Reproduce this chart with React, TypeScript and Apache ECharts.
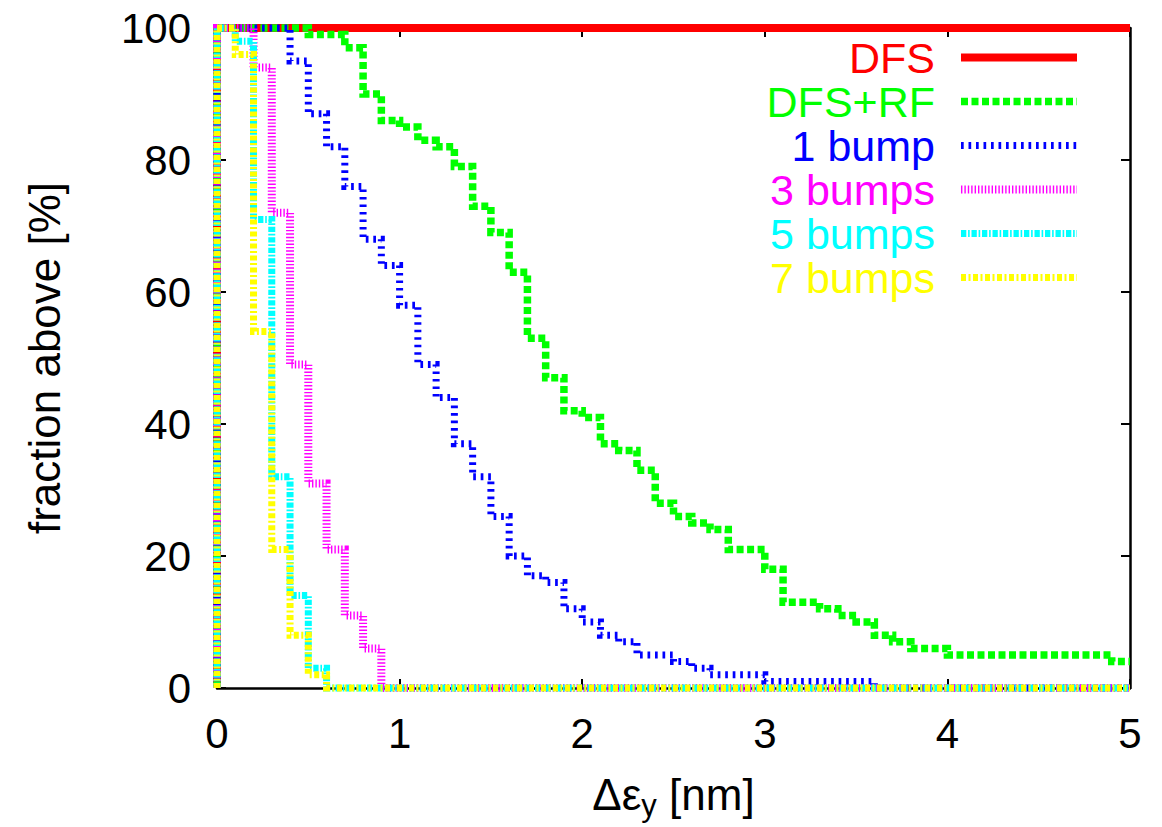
import React, { useEffect, useRef } from 'react';
import * as echarts from 'echarts';

// bin edges along Δε_y [nm]
const binEdges = [
  0.0, 0.1, 0.2, 0.3, 0.4, 0.5, 0.6, 0.7, 0.8, 0.9,
  1.0, 1.1, 1.2, 1.3, 1.4, 1.5, 1.6, 1.7, 1.8, 1.9,
  2.0, 2.1, 2.2, 2.3, 2.4, 2.5, 2.6, 2.7, 2.8, 2.9,
  3.0, 3.1, 3.2, 3.3, 3.4, 3.5, 3.6, 3.7, 3.8, 3.9,
  4.0, 4.1, 4.2, 4.3, 4.4, 4.5, 4.6, 4.7, 4.8, 4.9,
  5.0,
];

// fraction above [%] on each bin (50 bins)
const dfs = [
  100, 100, 100, 100, 100, 100, 100, 100, 100, 100,
  100, 100, 100, 100, 100, 100, 100, 100, 100, 100,
  100, 100, 100, 100, 100, 100, 100, 100, 100, 100,
  100, 100, 100, 100, 100, 100, 100, 100, 100, 100,
  100, 100, 100, 100, 100, 100, 100, 100, 100, 100,
];
const dfsRf = [
  100, 100, 100, 100, 100, 99, 99, 97, 90, 86,
  85, 83, 82, 79, 73, 69, 63, 53, 47, 42,
  41, 37, 36, 33, 28, 26, 25, 24, 21, 21,
  18, 13, 13, 12, 11, 10, 8, 7, 6, 6,
  5, 5, 5, 5, 5, 5, 5, 5, 5, 4,
];
const bump1 = [
  100, 100, 100, 100, 95, 87, 82, 76, 68, 64,
  58, 49, 44, 37, 32, 26, 20, 17, 16, 12,
  10, 8, 7, 5, 5, 4, 3, 2, 2, 2,
  1, 1, 1, 1, 1, 1, 0, 0, 0, 0,
  0, 0, 0, 0, 0, 0, 0, 0, 0, 0,
];
const bumps3 = [
  100, 100, 94, 72, 49, 31, 21, 11, 6, 0,
  0, 0, 0, 0, 0, 0, 0, 0, 0, 0,
  0, 0, 0, 0, 0, 0, 0, 0, 0, 0,
  0, 0, 0, 0, 0, 0, 0, 0, 0, 0,
  0, 0, 0, 0, 0, 0, 0, 0, 0, 0,
];
const bumps5 = [
  100, 98, 71, 32, 14, 3, 0, 0, 0, 0,
  0, 0, 0, 0, 0, 0, 0, 0, 0, 0,
  0, 0, 0, 0, 0, 0, 0, 0, 0, 0,
  0, 0, 0, 0, 0, 0, 0, 0, 0, 0,
  0, 0, 0, 0, 0, 0, 0, 0, 0, 0,
];
const bumps7 = [
  100, 96, 54, 21, 8, 2, 0, 0, 0, 0,
  0, 0, 0, 0, 0, 0, 0, 0, 0, 0,
  0, 0, 0, 0, 0, 0, 0, 0, 0, 0,
  0, 0, 0, 0, 0, 0, 0, 0, 0, 0,
  0, 0, 0, 0, 0, 0, 0, 0, 0, 0,
];

const seriesNames = ['DFS', 'DFS+RF', '1 bump', '3 bumps', '5 bumps', '7 bumps'];
const xTicks = [0, 1, 2, 3, 4, 5];
const yTicks = [0, 20, 40, 60, 80, 100];

const FONT = '"Liberation Sans", Arial, Helvetica, sans-serif';

function buildSteps(levels: number[]) {
  const pts: number[][] = [[binEdges[0], 0]];
  levels.forEach((v, i) => pts.push([binEdges[i], v]));
  pts.push([binEdges[binEdges.length - 1], levels[levels.length - 1]]);
  return pts;
}

const styles = [
  { color: '#ff0000', width: 8, type: 'solid' as any },
  { color: '#00ff00', width: 7.5, type: [7, 3.5] },
  { color: '#0000ff', width: 7, type: [2.7, 4.8] },
  { color: '#ff00ff', width: 8, type: [1.4, 2] },
  { color: '#00ffff', width: 7, type: [5.3, 1.8, 1.6, 1.8] },
  { color: '#ffff00', width: 7, type: [5, 2.5, 2, 2.5] },
];

export default function App() {
  const ref = useRef<HTMLDivElement>(null);
  useEffect(() => {
    if (!ref.current) return;
    const chart = echarts.init(ref.current, undefined, { renderer: 'svg' });
    const allLevels = [dfs, dfsRf, bump1, bumps3, bumps5, bumps7];
    const axisCommonX = {
      type: 'value' as const,
      min: xTicks[0],
      max: xTicks[xTicks.length - 1],
      interval: xTicks[1] - xTicks[0],
      splitLine: { show: false },
      axisLine: { show: true, onZero: false, lineStyle: { color: '#000', width: 2.5 } },
      axisTick: { show: true, inside: true, length: 9, lineStyle: { color: '#000', width: 2 } },
    };
    const axisCommonY = {
      type: 'value' as const,
      min: yTicks[0],
      max: yTicks[yTicks.length - 1],
      interval: yTicks[1] - yTicks[0],
      splitLine: { show: false },
      axisLine: { show: true, onZero: false, lineStyle: { color: '#000', width: 2.5 } },
      axisTick: { show: true, inside: true, length: 9, lineStyle: { color: '#000', width: 2 } },
    };
    chart.setOption({
      animation: false,
      backgroundColor: '#fff',
      grid: { left: 217, right: 32, top: 28, bottom: 137, containLabel: false },
      xAxis: [
        {
          ...axisCommonX,
          position: 'bottom',
          axisLabel: { fontSize: 42, color: '#000', margin: 24, fontFamily: FONT },
          name: '{m|Δε}{s|y}{m| [nm]}',
          nameLocation: 'middle',
          nameGap: 78,
          nameTextStyle: {
            color: '#000',
            fontFamily: FONT,
            fontSize: 44,
            lineHeight: 56,
            rich: {
              m: { fontSize: 44, fontFamily: FONT, color: '#000', lineHeight: 56 },
              s: { fontSize: 31, fontFamily: FONT, color: '#000', lineHeight: 30, padding: [22, 0, 0, 0] },
            },
          },
        },
        {
          ...axisCommonX,
          position: 'top',
          axisLabel: { show: false },
        },
      ],
      yAxis: [
        {
          ...axisCommonY,
          position: 'left',
          axisLabel: { fontSize: 42, color: '#000', margin: 26, fontFamily: FONT },
          name: 'fraction above [%]',
          nameLocation: 'middle',
          nameGap: 151,
          nameTextStyle: { color: '#000', fontFamily: FONT, fontSize: 44 },
        },
        {
          ...axisCommonY,
          position: 'right',
          axisLabel: { show: false },
        },
      ],
      legend: {
        orient: 'vertical',
        right: 76,
        top: 31,
        align: 'right',
        itemWidth: 116,
        itemHeight: 8,
        itemGap: 1.0,
        selectedMode: false,
        textStyle: { fontSize: 43, fontFamily: FONT, lineHeight: 40, padding: [0, 21, 0, 0] },
        itemStyle: { color: 'rgba(0,0,0,0)', borderWidth: 0, opacity: 0 },
        lineStyle: { width: 'inherit', type: 'inherit' } as any,
        data: seriesNames.map((n, i) => ({ name: n, textStyle: { color: styles[i].color } })),
      },
      series: seriesNames.map((n, i) => ({
        name: n,
        type: 'line',
        step: 'end',
        data: buildSteps(allLevels[i]),
        symbol: 'none',
        showSymbol: false,
        clip: false,
        silent: true,
        itemStyle: { color: styles[i].color },
        lineStyle: {
          color: styles[i].color,
          width: styles[i].width,
          type: styles[i].type,
          cap: 'butt',
          join: 'miter',
        },
        emphasis: { disabled: true },
        z: 2 + i,
      })),
    });
    return () => chart.dispose();
  }, []);
  return (
    <div
      ref={ref}
      style={{ position: 'fixed', left: 0, top: 0, width: 1162, height: 827, background: '#fff' }}
    />
  );
}
